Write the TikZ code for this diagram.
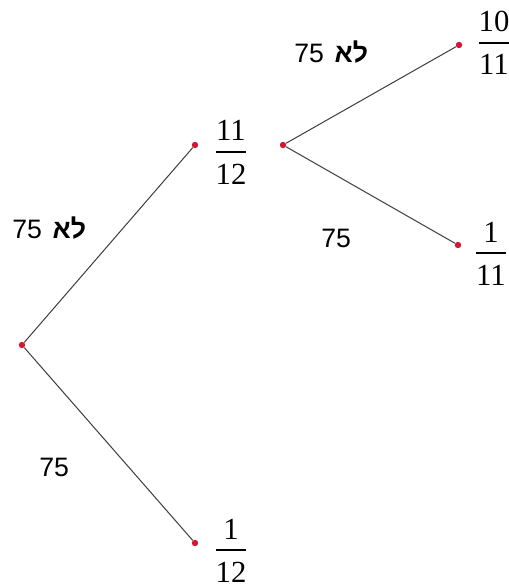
\documentclass[tikz,border=0pt]{standalone}
\usepackage{fontspec}
\setmainfont{Liberation Serif}
\newfontfamily\lblfont{Liberation Sans}
\newfontfamily\hebfont[Script=Hebrew]{Liberation Sans}
\TeXXeTstate=1
\usetikzlibrary{calc}
\definecolor{dotred}{RGB}{215,20,50}
\definecolor{linegray}{RGB}{60,60,60}
\begin{document}
\begin{tikzpicture}[x=0.75pt,y=-0.75pt,
  dot/.style={circle,fill=dotred,inner sep=0pt,minimum size=4.8pt},
  branch/.style={draw=linegray,line width=0.75pt},
  fracbar/.style={fill=black,inner sep=0pt,minimum width=22.5pt,minimum height=0.8pt},
  fnum/.style={font=\fontsize{23}{25}\selectfont,inner sep=0pt,anchor=base},
  lbl/.style={font=\lblfont\fontsize{20}{22}\selectfont,inner sep=0pt,anchor=base west},
  ]
\useasboundingbox (0,0) rectangle (508,588);
% dots
\node[dot] (r) at (22,345) {};
\node[dot] (a) at (195,145) {};
\node[dot] (b) at (195,543) {};
\node[dot] (c) at (283,145) {};
\node[dot] (d) at (459,45) {};
\node[dot] (e) at (458,245) {};
% branches
\draw[branch] (r) -- (a);
\draw[branch] (r) -- (b);
\draw[branch] (c) -- (d);
\draw[branch] (c) -- (e);
% fractions
\node[fracbar] (fa) at (231,152) {};
\node[fnum] (fan) at ($(fa)+(0,-11)$) {11};
\node[fnum] (fad) at ($(fa)+(0,32)$) {12};
\node[fracbar] (fb) at (231,550) {};
\node[fnum] (fbn) at ($(fb)+(0,-11)$) {1};
\node[fnum] (fbd) at ($(fb)+(0,32)$) {12};
\node[fracbar] (fd) at (494,43) {};
\node[fnum] (fdn) at ($(fd)+(0,-11)$) {10};
\node[fnum] (fdd) at ($(fd)+(0,32)$) {11};
\node[fracbar] (fe) at (491,253) {};
\node[fnum] (fen) at ($(fe)+(0,-11)$) {1};
\node[fnum] (fed) at ($(fe)+(0,32)$) {11};
% labels
\node[lbl] (l1) at (12,238) {\hebfont\beginR{\bfseries לא}\hspace{8pt}\beginL75\endL\endR};
\node[lbl] (l2) at (294,63) {\hebfont\beginR{\bfseries לא}\hspace{8pt}\beginL75\endL\endR};
\node[lbl] (l3) at (39,476) {75};
\node[lbl] (l4) at (321,247) {75};
\end{tikzpicture}
\end{document}
